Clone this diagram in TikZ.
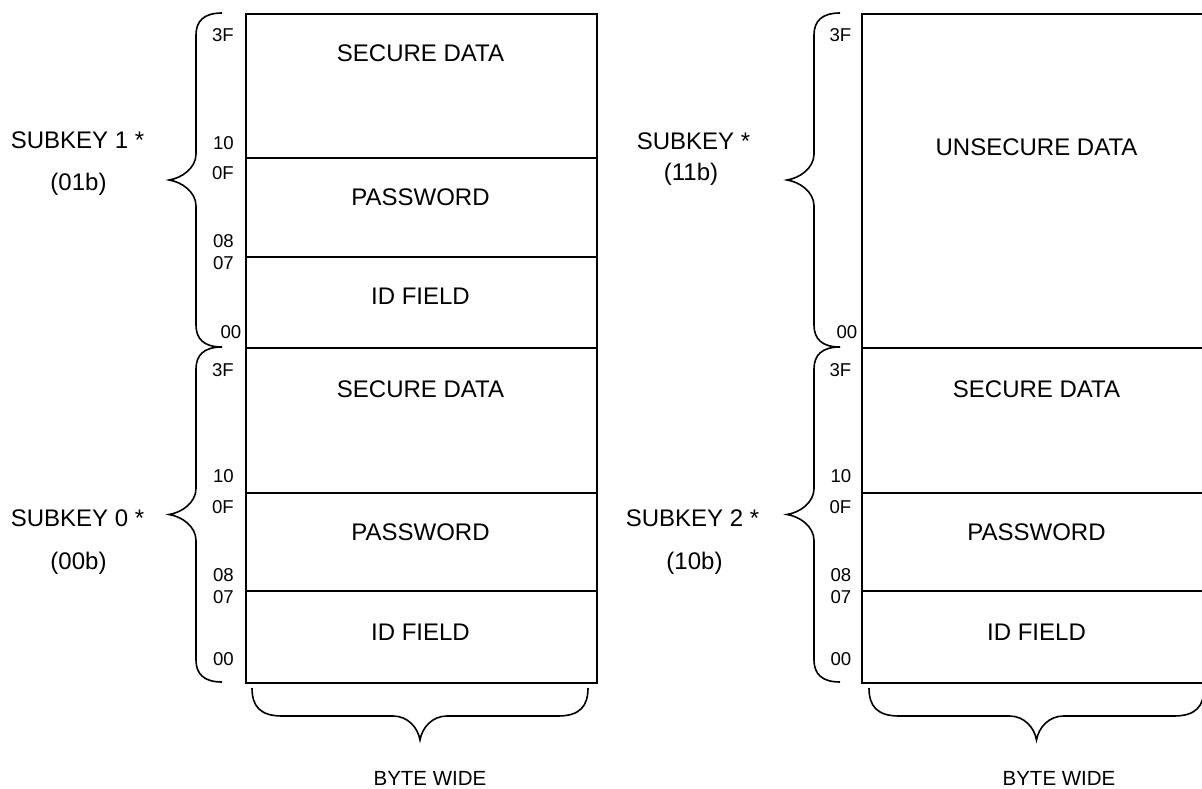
\documentclass[tikz,border=0pt]{standalone}
\usepackage{fontspec}
\setmainfont{Liberation Sans}
\newcommand\BraceV[3]{% x of ends, y top, y bottom
  \draw[bracepath] (#1,#2) .. controls ({#1-18},#2) and ({#1-26},{#2+8}) .. ({#1-26},{#2+22})
    -- ({#1-26},{(#2+#3)/2-26}) .. controls ({#1-26},{(#2+#3)/2-12}) and ({#1-40},{(#2+#3)/2-2}) .. ({#1-53},{(#2+#3)/2})
    .. controls ({#1-40},{(#2+#3)/2+2}) and ({#1-26},{(#2+#3)/2+12}) .. ({#1-26},{(#2+#3)/2+26})
    -- ({#1-26},{#3-22}) .. controls ({#1-26},{#3-8}) and ({#1-18},#3) .. (#1,#3);}
\newcommand\BraceH[3]{% y of ends, x left, x right
  \draw[bracepath] (#2,#1) .. controls (#2,{#1+18}) and ({#2+8},{#1+28}) .. ({#2+30},{#1+28})
    -- ({(#2+#3)/2-27},{#1+28}) .. controls ({(#2+#3)/2-12},{#1+28}) and ({(#2+#3)/2-2},{#1+40}) .. ({(#2+#3)/2},{#1+52})
    .. controls ({(#2+#3)/2+2},{#1+40}) and ({(#2+#3)/2+12},{#1+28}) .. ({(#2+#3)/2+27},{#1+28})
    -- ({#3-30},{#1+28}) .. controls ({#3-8},{#1+28}) and (#3,{#1+18}) .. (#3,#1);}
\begin{document}
\begin{tikzpicture}[x=1pt,y=-1pt,
  field/.style={draw, line width=1.6pt, rectangle, inner sep=0pt, minimum width=351pt, anchor=north west},
  maintext/.style={font=\fontsize{24}{28}\selectfont, inner sep=0pt},
  hexlbl/.style={font=\fontsize{18.6}{22}\selectfont, inner sep=0pt, anchor=east},
  keylbl/.style={font=\fontsize{24}{28}\selectfont, inner sep=0pt},
  widelbl/.style={font=\fontsize{20.5}{24}\selectfont, inner sep=0pt},
  bracepath/.style={line width=1.6pt}]
\useasboundingbox (0,0) rectangle (1202,789);
\clip (0,0) rectangle (1202,789);

% ---------- left column ----------
\node[field, minimum height=144pt] (LAsec) at (245,13) {};
\node[field, minimum height=99pt]  (LApw)  at (245,157) {};
\node[field, minimum height=91pt]  (LAid)  at (245,256) {};
\node[field, minimum height=145pt] (LBsec) at (245,347) {};
\node[field, minimum height=98pt]  (LBpw)  at (245,492) {};
\node[field, minimum height=92pt]  (LBid)  at (245,590) {};

\node[maintext] (tLAsec) at (420.5,53.5) {SECURE DATA};
\node[maintext] (tLApw)  at (420.5,197) {PASSWORD};
\node[maintext] (tLAid)  at (420.5,296) {ID FIELD};
\node[maintext] (tLBsec) at (420.5,389) {SECURE DATA};
\node[maintext] (tLBpw)  at (420.5,532) {PASSWORD};
\node[maintext] (tLBid)  at (420.5,632) {ID FIELD};

\node[hexlbl] (hLA1) at (234,35) {3F};
\node[hexlbl] (hLA2) at (234,143) {10};
\node[hexlbl] (hLA3) at (234,173) {0F};
\node[hexlbl] (hLA4) at (234,241.5) {08};
\node[hexlbl] (hLA5) at (234,263) {07};
\node[hexlbl] (hLA6) at (241.5,332.5) {00};
\node[hexlbl] (hLB1) at (234,370.5) {3F};
\node[hexlbl] (hLB2) at (234,476) {10};
\node[hexlbl] (hLB3) at (234,507) {0F};
\node[hexlbl] (hLB4) at (234,575.5) {08};
\node[hexlbl] (hLB5) at (234,597) {07};
\node[hexlbl] (hLB6) at (234,659) {00};

\BraceV{222}{13}{347}
\BraceV{222}{347}{682}
\BraceH{688}{252}{588}

\node[keylbl] (kL1) at (77.5,140) {SUBKEY 1 *};
\node[keylbl] (kL1b) at (78.5,184) {(01b)};
\node[keylbl] (kL0) at (77.5,518) {SUBKEY 0 *};
\node[keylbl] (kL0b) at (78.5,563) {(00b)};
\node[widelbl] (wL) at (430,778) {BYTE WIDE};

% ---------- right column ----------
\node[field, minimum height=334pt] (RAuns) at (861,13) {};
\node[field, minimum height=145pt] (RBsec) at (861,347) {};
\node[field, minimum height=98pt]  (RBpw)  at (861,492) {};
\node[field, minimum height=92pt]  (RBid)  at (861,590) {};

\node[maintext] (tRAuns) at (1036.5,147) {UNSECURE DATA};
\node[maintext] (tRBsec) at (1036.5,389) {SECURE DATA};
\node[maintext] (tRBpw)  at (1036.5,532) {PASSWORD};
\node[maintext] (tRBid)  at (1036.5,632) {ID FIELD};

\node[hexlbl] (hRA1) at (851.5,35) {3F};
\node[hexlbl] (hRA6) at (857.5,332.5) {00};
\node[hexlbl] (hRB1) at (851.5,370.5) {3F};
\node[hexlbl] (hRB2) at (851.5,476) {10};
\node[hexlbl] (hRB3) at (851.5,507) {0F};
\node[hexlbl] (hRB4) at (851.5,575.5) {08};
\node[hexlbl] (hRB5) at (851.5,597) {07};
\node[hexlbl] (hRB6) at (851.5,659) {00};

\BraceV{840}{13}{347}
\BraceV{840}{347}{682}
\BraceH{688}{869}{1204}

\node[keylbl] (kR3) at (693.5,141) {SUBKEY *};
\node[keylbl] (kR3b) at (691,174) {(11b)};
\node[keylbl] (kR2) at (692.5,518) {SUBKEY 2 *};
\node[keylbl] (kR2b) at (694.5,563) {(10b)};
\node[widelbl] (wR) at (1059,778) {BYTE WIDE};
\end{tikzpicture}
\end{document}
